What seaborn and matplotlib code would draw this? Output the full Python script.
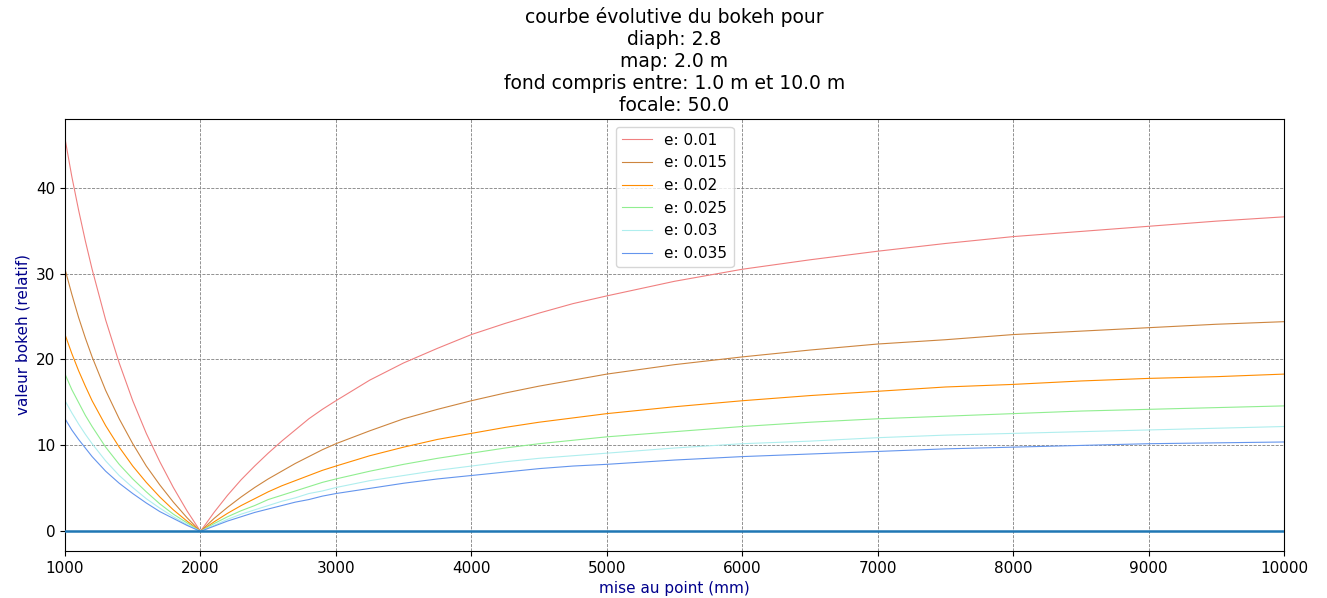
import matplotlib
matplotlib.use("Agg")
import matplotlib.pyplot as plt
import pandas as pd
import seaborn as sns

# mise au point (mm)
MAP_MM = [1000, 1050, 1100, 1150, 1200, 1300, 1400, 1500, 1600, 1700, 1800, 1900,
          2000, 2100, 2200, 2300, 2400, 2500, 2600, 2700, 2800, 2900, 3000,
          3250, 3500, 3750, 4000, 4250, 4500, 4750, 5000,
          5500, 6000, 6500, 7000, 7500, 8000, 8500, 9000, 9500, 10000]

E_001 = [45.7, 41.3, 37.4, 33.8, 30.5, 24.6, 19.6, 15.2, 11.4, 8.1, 5.1, 2.4,
         0.0, 2.2, 4.2, 6.0, 7.6, 9.1, 10.5, 11.8, 13.1, 14.2, 15.2,
         17.6, 19.6, 21.3, 22.9, 24.2, 25.4, 26.5, 27.4,
         29.1, 30.5, 31.6, 32.6, 33.5, 34.3, 34.9, 35.5, 36.1, 36.6]
E_0015 = [30.5, 27.6, 24.9, 22.5, 20.3, 16.4, 13.1, 10.2, 7.6, 5.4, 3.4, 1.6,
          0.0, 1.5, 2.8, 4.0, 5.1, 6.1, 7.0, 7.9, 8.7, 9.5, 10.2,
          11.7, 13.1, 14.2, 15.2, 16.1, 16.9, 17.6, 18.3,
          19.4, 20.3, 21.1, 21.8, 22.3, 22.9, 23.3, 23.7, 24.1, 24.4]
E_002 = [22.9, 20.7, 18.7, 16.9, 15.2, 12.3, 9.8, 7.6, 5.7, 4.0, 2.5, 1.2,
         0.0, 1.1, 2.1, 3.0, 3.8, 4.6, 5.3, 5.9, 6.5, 7.1, 7.6,
         8.8, 9.8, 10.7, 11.4, 12.1, 12.7, 13.2, 13.7,
         14.5, 15.2, 15.8, 16.3, 16.8, 17.1, 17.5, 17.8, 18.0, 18.3]
E_0025 = [18.3, 16.5, 15.0, 13.5, 12.2, 9.8, 7.8, 6.1, 4.6, 3.2, 2.0, 1.0,
          0.0, 0.9, 1.7, 2.4, 3.0, 3.7, 4.2, 4.7, 5.2, 5.7, 6.1,
          7.0, 7.8, 8.5, 9.1, 9.7, 10.2, 10.6, 11.0,
          11.6, 12.2, 12.7, 13.1, 13.4, 13.7, 14.0, 14.2, 14.4, 14.6]
E_003 = [15.2, 13.8, 12.5, 11.3, 10.2, 8.2, 6.5, 5.1, 3.8, 2.7, 1.7, 0.8,
         0.0, 0.7, 1.4, 2.0, 2.5, 3.0, 3.5, 3.9, 4.4, 4.7, 5.1,
         5.9, 6.5, 7.1, 7.6, 8.1, 8.5, 8.8, 9.1,
         9.7, 10.2, 10.5, 10.9, 11.2, 11.4, 11.6, 11.8, 12.0, 12.2]
E_0035 = [13.1, 11.8, 10.7, 9.7, 8.7, 7.0, 5.6, 4.4, 3.3, 2.3, 1.5, 0.7,
          0.0, 0.6, 1.2, 1.7, 2.2, 2.6, 3.0, 3.4, 3.7, 4.1, 4.4,
          5.0, 5.6, 6.1, 6.5, 6.9, 7.3, 7.6, 7.8,
          8.3, 8.7, 9.0, 9.3, 9.6, 9.8, 10.0, 10.2, 10.3, 10.4]

LABELS = ["e: 0.01", "e: 0.015", "e: 0.02", "e: 0.025", "e: 0.03", "e: 0.035"]
SERIES = [E_001, E_0015, E_002, E_0025, E_003, E_0035]
COLORS = ["lightcoral", "peru", "darkorange", "lightgreen", "paleturquoise", "cornflowerblue"]

ZERO_X = [1000, 10000]
ZERO_Y = [0, 0]

fig, ax = plt.subplots(figsize=(13.27, 5.98), dpi=100)
fig.subplots_adjust(left=0.049, right=0.9676, top=0.801, bottom=0.0786)

# one call per curve so the legend keeps its own colour
for label, vals, color in zip(LABELS, SERIES, COLORS):
    df = pd.DataFrame({"map": MAP_MM, "bokeh": vals})
    sns.lineplot(data=df, x="map", y="bokeh", color=color, linewidth=0.8,
                 label=label, ax=ax)
ax.plot(ZERO_X, ZERO_Y, color="#1f77b4", linewidth=1.8, zorder=3)

ax.set_xlim(1000, 10000)
ax.grid(True, linestyle="--", color="gray", linewidth=0.6)
ax.tick_params(labelsize=11)
ax.set_xlabel("mise au point (mm)", color="darkblue", fontsize=11)
ax.set_ylabel("valeur bokeh (relatif)", color="darkblue", fontsize=11)
ax.set_title("courbe évolutive du bokeh pour\ndiaph: 2.8\nmap: 2.0 m\n"
             "fond compris entre: 1.0 m et 10.0 m\nfocale: 50.0", fontsize=13.5)
ax.legend(loc="upper center", fontsize=11)

fig.savefig("out.png", dpi=100)
